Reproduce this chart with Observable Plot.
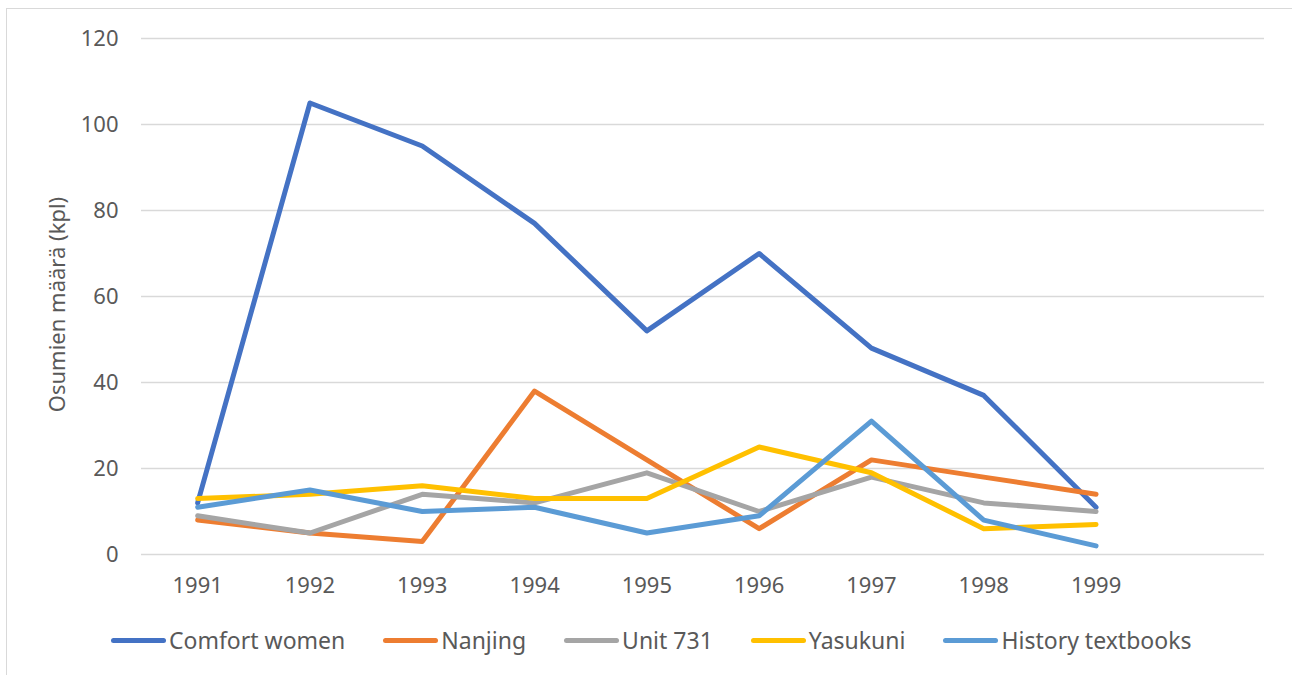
<!DOCTYPE html>
<html>
<head>
<meta charset="utf-8">
<script src="https://cdn.jsdelivr.net/npm/d3@7"></script>
<script src="https://cdn.jsdelivr.net/npm/@observablehq/plot@0.6"></script>
<style>
  html, body { margin: 0; padding: 0; background: #fff; }
  #wrap { position: relative; width: 1292px; height: 675px; overflow: hidden; font-family: "Noto Sans", sans-serif; }
  #frame { position: absolute; left: 6px; top: 8px; width: 1300px; height: 700px; border: 1px solid #d9d9d9; box-sizing: border-box; }
  #chart { position: absolute; left: 0; top: 0; }
  #legend { position: absolute; left: 111px; top: 624px; display: flex; align-items: center; gap: 38px; font-size: 23px; color: #595959; white-space: nowrap; }
  .item { display: flex; align-items: center; gap: 3px; }
  .sw { width: 55px; height: 5px; border-radius: 3px; }
</style>
</head>
<body>
<div id="wrap">
  <div id="frame"></div>
  <div id="chart"></div>
  <div id="legend"></div>
</div>
<script>
const years = [1991, 1992, 1993, 1994, 1995, 1996, 1997, 1998, 1999];
const seriesNames = ["Comfort women", "Nanjing", "Unit 731", "Yasukuni", "History textbooks"];
const seriesColors = ["#4472C4", "#ED7D31", "#A5A5A5", "#FFC000", "#5B9BD5"];
const comfortWomen = [12, 105, 95, 77, 52, 70, 48, 37, 11];
const nanjing = [8, 5, 3, 38, 22, 6, 22, 18, 14];
const unit731 = [9, 5, 14, 12, 19, 10, 18, 12, 10];
const yasukuni = [13, 14, 16, 13, 13, 25, 19, 6, 7];
const historyTextbooks = [11, 15, 10, 11, 5, 9, 31, 8, 2];
const yTicks = [0, 20, 40, 60, 80, 100, 120];
const yLabel = "Osumien määrä (kpl)";

const allSeries = [comfortWomen, nanjing, unit731, yasukuni, historyTextbooks];
const data = [];
seriesNames.forEach((name, i) => {
  years.forEach((yr, j) => data.push({series: name, year: yr, value: allSeries[i][j]}));
});

const chart = Plot.plot({
  width: 1292,
  height: 600,
  marginTop: 38,
  marginBottom: 46,
  marginLeft: 141,
  marginRight: 28,
  style: {fontFamily: "Noto Sans", fontSize: "22px", color: "#595959", background: "transparent"},
  x: {type: "linear", domain: [1990.5, 2000.5]},
  y: {domain: [0, 120]},
  color: {domain: seriesNames, range: seriesColors},
  marks: [
    Plot.gridY(yTicks, {stroke: "#d9d9d9", strokeOpacity: 1, strokeWidth: 1.5}),
    Plot.axisY(yTicks, {tickSize: 0, tickPadding: 23, label: null, fontSize: 22, fill: "#595959"}),
    Plot.axisX(years, {tickSize: 0, tickPadding: 23, label: null, tickFormat: d => String(d), fontSize: 22, fill: "#595959"}),
    Plot.text([yLabel], {frameAnchor: "left", dx: -84, dy: 8, rotate: -90, text: d => d, fontSize: 22, fill: "#595959", lineAnchor: "middle", textAnchor: "middle"}),
    Plot.line(data, {x: "year", y: "value", z: "series", stroke: "series", strokeWidth: 5, strokeLinejoin: "round", strokeLinecap: "round"})
  ]
});
document.getElementById("chart").appendChild(chart);

const legend = document.getElementById("legend");
seriesNames.forEach((name, i) => {
  const item = document.createElement("div");
  item.className = "item";
  const sw = document.createElement("span");
  sw.className = "sw";
  sw.style.background = seriesColors[i];
  const lab = document.createElement("span");
  lab.textContent = name;
  item.appendChild(sw);
  item.appendChild(lab);
  legend.appendChild(item);
});
</script>
</body>
</html>
